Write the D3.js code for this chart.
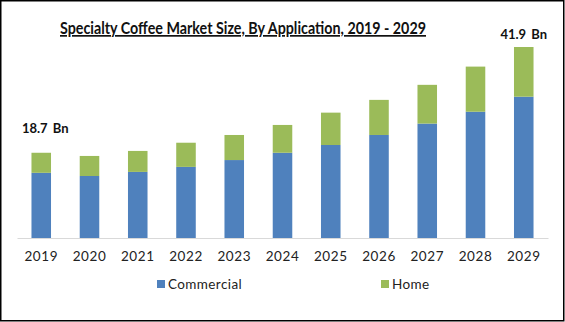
<!DOCTYPE html>
<html><head><meta charset="utf-8">
<script src="https://cdn.jsdelivr.net/npm/d3@7"></script>
<style>body{margin:0;background:#fff}svg{display:block}</style>
</head><body>
<svg id="chart" width="565" height="322"></svg>
<script>
const years = ["2019","2020","2021","2022","2023","2024","2025","2026","2027","2028","2029"];
const commercial = [14.3, 13.6, 14.5, 15.6, 17.1, 18.7, 20.4, 22.6, 25.1, 27.7, 31.0];
const home = [4.4, 4.4, 4.6, 5.3, 5.5, 6.1, 7.1, 7.7, 8.5, 9.9, 10.9];
const seriesNames = ["Commercial", "Home"];
const seriesColors = ["#4f81bd", "#9bbb59"];
const title = "Specialty Coffee Market Size, By Application, 2019 - 2029";
const annotations = [{year: "2019", label: "18.7 Bn"}, {year: "2029", label: "41.9 Bn"}];

const svg = d3.select("#chart");
const font = "Lato, 'Open Sans', sans-serif";

svg.append("rect").attr("x", 0.75).attr("y", 0.75).attr("width", 563).attr("height", 320)
  .attr("fill", "#fff").attr("stroke", "#000").attr("stroke-width", 1.5);

const x = d3.scaleBand().domain(years).range([17, 548]).paddingInner(0.595).paddingOuter(0.3);
const totals = years.map((_, i) => commercial[i] + home[i]);
const y = d3.scaleLinear().domain([0, 41.9]).range([238, 47]);

const data = years.map((yr, i) => ({year: yr, Commercial: commercial[i], Home: home[i]}));
const stacked = d3.stack().keys(seriesNames)(data);

svg.append("g").selectAll("g").data(stacked).join("g")
  .attr("fill", (d, i) => seriesColors[i])
  .selectAll("rect").data(d => d).join("rect")
  .attr("x", d => x(d.data.year))
  .attr("width", x.bandwidth())
  .attr("y", d => y(d[1]))
  .attr("height", d => y(d[0]) - y(d[1]));

// axis
const xAxis = d3.axisBottom(x).tickSize(0).tickPadding(13);
const ax = svg.append("g").attr("transform", "translate(0,238)").call(xAxis);
ax.select(".domain").attr("stroke", "#d9d9d9").attr("stroke-width", 1);
ax.selectAll("text").attr("font-family", font).attr("font-size", 13.5)
  .attr("fill", "#222").attr("letter-spacing", "0.6px");

// title
svg.append("text").attr("x", 243).attr("y", 34).attr("text-anchor", "middle")
  .attr("font-family", font).attr("font-weight", "bold").attr("font-size", 17)
  .attr("text-decoration", "underline").attr("fill", "#111")
  .attr("textLength", 366).attr("lengthAdjust", "spacingAndGlyphs")
  .text(title);

// annotations
svg.selectAll(".ann").data(annotations).join("text").attr("class", "ann")
  .attr("x", d => x(d.year) + x.bandwidth() / 2 + (d.year === "2019" ? 4 : 0))
  .attr("y", d => y(totals[years.indexOf(d.year)]) - (d.year === "2019" ? 20 : 8))
  .attr("text-anchor", "middle")
  .attr("font-family", font).attr("font-weight", "bold").attr("font-size", 13)
  .attr("fill", "#111").attr("word-spacing", "2px")
  .text(d => d.label);

// legend
const legendX = [157, 381];
const lg = svg.selectAll(".lg").data(seriesNames).join("g").attr("class", "lg")
  .attr("transform", (d, i) => `translate(${legendX[i]},280)`);
lg.append("rect").attr("width", 8).attr("height", 8).attr("fill", (d, i) => seriesColors[i]);
lg.append("text").attr("x", 11).attr("y", 9).attr("font-family", font).attr("font-size", 13.5)
  .attr("fill", "#222").attr("letter-spacing", "0.4px").text(d => d);
</script>
</body></html>
